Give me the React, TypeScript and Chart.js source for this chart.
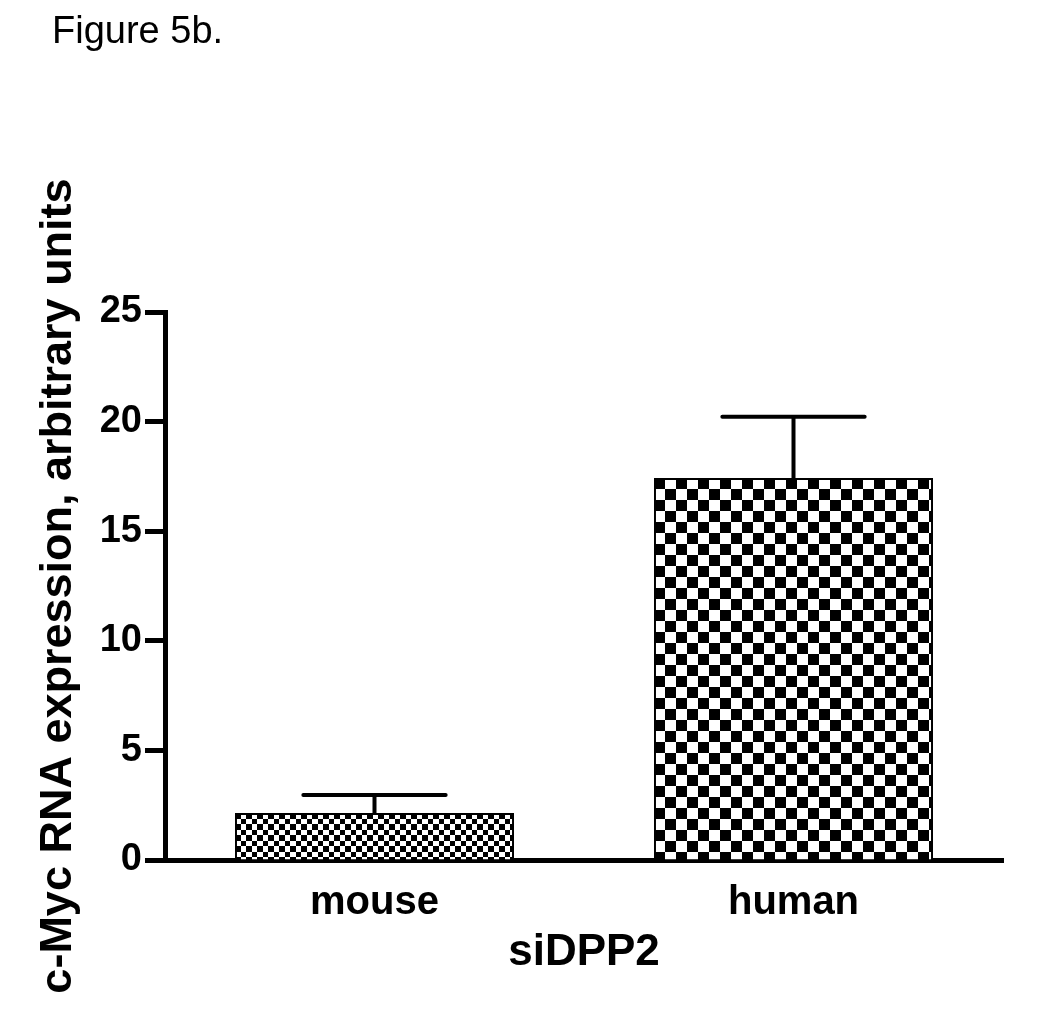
import React, { useEffect, useRef } from 'react';
import { Chart, registerables } from 'chart.js';

Chart.register(...registerables);

const categories = ['mouse', 'human'];
const meanValues = [2.14, 17.43];
const errorValues = [0.83, 2.79];
const yMin = 0;
const yMax = 25;
const yStep = 5;
const figureLabel = 'Figure 5b.';
const yTitle = 'c-Myc RNA expression, arbitrary units';
const xTitle = 'siDPP2';

const FONT = '"Liberation Sans", Arial, Helvetica, sans-serif';

function makeChecker(a: number, b: number): CanvasPattern {
  const c = document.createElement('canvas');
  const size = a + b;
  c.width = size;
  c.height = size;
  const g = c.getContext('2d') as CanvasRenderingContext2D;
  g.fillStyle = '#ffffff';
  g.fillRect(0, 0, size, size);
  g.fillStyle = '#000000';
  g.fillRect(0, 0, a, a);
  g.fillRect(a, a, b, b);
  return g.createPattern(c, 'repeat') as CanvasPattern;
}

export default function App() {
  const ref = useRef<HTMLCanvasElement | null>(null);

  useEffect(() => {
    if (!ref.current) return;
    const patterns = [makeChecker(6, 5), makeChecker(11, 11)];

    const patternAlign = {
      id: 'patternAlign',
      beforeDatasetsDraw(chart: any) {
        const meta = chart.getDatasetMeta(0);
        meta.data.forEach((el: any, i: number) => {
          const p = patterns[i];
          if (p && (p as any).setTransform) {
            p.setTransform(new DOMMatrix().translate(Math.round(el.x - el.width / 2), Math.round(el.y)));
          }
        });
      },
    };

    const errorBars = {
      id: 'errorBars',
      afterDatasetsDraw(chart: any) {
        const ctx = chart.ctx;
        const meta = chart.getDatasetMeta(0);
        const yScale = chart.scales.y;
        ctx.save();
        ctx.strokeStyle = '#000';
        ctx.lineWidth = 4;
        ctx.lineCap = 'round';
        meta.data.forEach((el: any, i: number) => {
          const top = yScale.getPixelForValue(meanValues[i] + errorValues[i]);
          const capHalf = el.width * 0.255;
          ctx.beginPath();
          ctx.moveTo(el.x, el.y);
          ctx.lineTo(el.x, top);
          ctx.moveTo(el.x - capHalf, top);
          ctx.lineTo(el.x + capHalf, top);
          ctx.stroke();
        });
        ctx.restore();
      },
    };

    const figureText = {
      id: 'figureText',
      afterDraw(chart: any) {
        const ctx = chart.ctx;
        ctx.save();
        ctx.font = `38px ${FONT}`;
        ctx.fillStyle = '#000';
        ctx.textBaseline = 'alphabetic';
        ctx.textAlign = 'left';
        ctx.fillText(figureLabel, 52, 43);
        ctx.restore();
      },
    };

    const chart = new Chart(ref.current, {
      type: 'bar',
      data: {
        labels: categories,
        datasets: [
          {
            data: meanValues,
            backgroundColor: patterns as any,
            borderColor: '#000',
            borderWidth: 2,
            borderSkipped: 'bottom',
            barPercentage: 0.666,
            categoryPercentage: 1,
          },
        ],
      },
      options: {
        responsive: false,
        animation: false,
        devicePixelRatio: 1,
        layout: { padding: { top: 312, right: 47, bottom: 0, left: 0 } },
        plugins: {
          legend: { display: false },
          tooltip: { enabled: false },
          title: { display: false },
        },
        scales: {
          x: {
            type: 'category',
            offset: true,
            afterFit: (scale: any) => {
              scale.height = 161;
            },
            grid: { display: false, drawTicks: false },
            border: { display: true, color: '#000', width: 5 },
            ticks: {
              color: '#000',
              padding: 19,
              font: { family: FONT, size: 40, weight: 'bold' },
            },
            title: {
              display: true,
              text: xTitle,
              color: '#000',
              font: { family: FONT, size: 44, weight: 'bold' },
              padding: { top: 0, bottom: 42 },
            },
          },
          y: {
            min: yMin,
            max: yMax,
            afterFit: (scale: any) => {
              scale.width = 165;
            },
            grid: {
              display: true,
              drawOnChartArea: false,
              drawTicks: true,
              tickLength: 20,
              tickWidth: 5,
              tickColor: '#000',
            },
            border: { display: true, color: '#000', width: 5 },
            ticks: {
              stepSize: yStep,
              color: '#000',
              padding: 3,
              font: { family: FONT, size: 38, weight: 'bold' },
            },
            title: {
              display: true,
              text: yTitle,
              color: '#000',
              font: { family: FONT, size: 45, weight: 'bold' },
              padding: { top: 32, bottom: 0 },
            },
          },
        },
      },
      plugins: [patternAlign, errorBars, figureText],
    });

    return () => chart.destroy();
  }, []);

  return (
    <div style={{ position: 'absolute', left: 0, top: 0, width: 1050, height: 1021, background: '#fff' }}>
      <canvas ref={ref} width={1050} height={1021} style={{ display: 'block', width: 1050, height: 1021 }} />
    </div>
  );
}
